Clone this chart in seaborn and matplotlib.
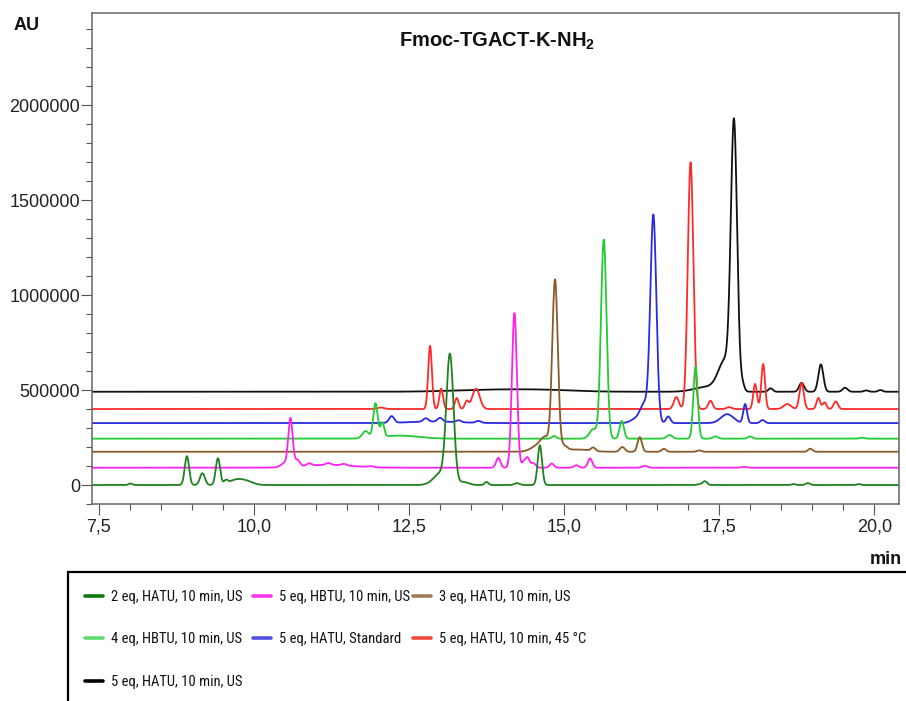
import numpy as np
import pandas as pd
import matplotlib
matplotlib.use("Agg")
import matplotlib.pyplot as plt
from matplotlib import font_manager
from matplotlib.lines import Line2D
from matplotlib.patches import Rectangle
from matplotlib.ticker import MultipleLocator, FuncFormatter
import seaborn as sns

# ---------------- data ----------------
RUNS = ["2 eq, HATU, 10 min, US", "5 eq, HBTU, 10 min, US", "3 eq, HATU, 10 min, US",
        "4 eq, HBTU, 10 min, US", "5 eq, HATU, Standard", "5 eq, HATU, 10 min, 45 °C",
        "5 eq, HATU, 10 min, US"]
BASELINES = [0, 91000, 175000, 244000, 326000, 400000, 491000]

# peak tables: retention time (min), height (AU), peak sigma (min)
RT_2EQ = [8.01, 8.92, 9.17, 9.42, 9.55, 9.72, 9.9, 12.92, 13.0, 13.16, 13.38, 13.75, 14.24, 14.61, 17.18, 17.27, 18.7, 18.93, 19.75]
H_2EQ = [8e3, 152e3, 62e3, 140e3, 18e3, 28e3, 14e3, 18e3, 45e3, 685e3, 16e3, 16e3, 10e3, 209e3, 5e3, 20e3, 5e3, 10e3, 5e3]
W_2EQ = [0.03, 0.035, 0.04, 0.035, 0.03, 0.12, 0.1, 0.1, 0.08, 0.058, 0.08, 0.03, 0.04, 0.035, 0.03, 0.035, 0.03, 0.035, 0.03]

RT_HBTU5 = [10.5, 10.59, 10.7, 10.89, 11.2, 11.2, 11.45, 11.88, 13.94, 14.2, 14.35, 14.41, 14.5, 14.8, 15.2, 15.42, 16.3, 17.9]
H_HBTU5 = [22e3, 250e3, 35e3, 12e3, 10e3, 15e3, 8e3, 5e3, 52e3, 815e3, 30e3, 50e3, 25e3, 22e3, 13e3, 49e3, 10e3, 5e3]
W_HBTU5 = [0.06, 0.035, 0.04, 0.04, 0.04, 0.4, 0.04, 0.04, 0.035, 0.04, 0.03, 0.03, 0.04, 0.035, 0.04, 0.035, 0.04, 0.04]

RT_3EQ = [14.55, 14.7, 14.855, 15.0, 15.2, 15.47, 15.94, 16.22, 16.61, 17.18, 18.97]
H_3EQ = [25e3, 70e3, 894e3, 25e3, 12e3, 18e3, 25e3, 77e3, 16e3, 7e3, 16e3]
W_3EQ = [0.1, 0.08, 0.045, 0.05, 0.2, 0.035, 0.04, 0.035, 0.035, 0.035, 0.035]

RT_HBTU4 = [11.8, 11.96, 12.07, 12.35, 14.84, 15.47, 15.64, 15.93, 16.7, 17.12, 17.44, 18.0, 19.8]
H_HBTU4 = [37e3, 180e3, 75e3, 16e3, 14e3, 50e3, 1048e3, 93e3, 19e3, 380e3, 12e3, 12e3, 5e3]
W_HBTU4 = [0.05, 0.035, 0.03, 0.3, 0.035, 0.06, 0.045, 0.035, 0.045, 0.035, 0.04, 0.035, 0.04]

RT_STD = [12.22, 12.77, 12.9, 13.0, 13.3, 13.62, 16.15, 16.3, 16.44, 16.68, 17.63, 17.92, 18.2]
H_STD = [35e3, 18e3, 8e3, 20e3, 10e3, 10e3, 20e3, 100e3, 1085e3, 35e3, 47e3, 100e3, 16e3]
W_STD = [0.04, 0.04, 0.4, 0.04, 0.04, 0.04, 0.08, 0.07, 0.048, 0.035, 0.1, 0.03, 0.035]

RT_45C = [12.05, 12.84, 13.02, 13.27, 13.43, 13.58, 16.81, 17.04, 17.36, 17.66, 18.08, 18.21, 18.6, 18.83, 19.1, 19.2, 19.38]
H_45C = [8e3, 333e3, 107e3, 58e3, 40e3, 107e3, 63e3, 1300e3, 44e3, 10e3, 132e3, 237e3, 26e3, 137e3, 58e3, 35e3, 40e3]
W_45C = [0.05, 0.03, 0.03, 0.03, 0.03, 0.06, 0.04, 0.045, 0.035, 0.04, 0.03, 0.03, 0.06, 0.035, 0.03, 0.03, 0.035]

RT_5EQ = [13.8, 14.7, 17.3, 17.6, 17.74, 17.88, 18.33, 18.83, 19.14, 19.53, 19.87, 20.1]
H_5EQ = [10e3, 8e3, 25e3, 160e3, 1366e3, 30e3, 18e3, 47e3, 144e3, 21e3, 7e3, 9e3]
W_5EQ = [0.6, 0.5, 0.2, 0.11, 0.05, 0.03, 0.035, 0.04, 0.04, 0.04, 0.035, 0.035]

PEAKS = [(RT_2EQ, H_2EQ, W_2EQ), (RT_HBTU5, H_HBTU5, W_HBTU5), (RT_3EQ, H_3EQ, W_3EQ),
         (RT_HBTU4, H_HBTU4, W_HBTU4), (RT_STD, H_STD, W_STD), (RT_45C, H_45C, W_45C),
         (RT_5EQ, H_5EQ, W_5EQ)]

LINE_COLORS = ["#1e821e", "#ff22ee", "#8b5a2b", "#22cc33", "#2a2ae0", "#ff2a2a", "#111111"]
LEGEND_COLORS = ["#0d7a0d", "#ff33ee", "#a07c58", "#5edc6e", "#5050e0", "#f5463f", "#000000"]

X_TICKS = [7.5, 10.0, 12.5, 15.0, 17.5, 20.0]
Y_TICKS = [0, 500000, 1000000, 1500000, 2000000]

# ---------------- build long table ----------------
t = np.arange(7.39, 20.41, 0.004)
frames = []
for run, base, (rts, hs, ws) in zip(RUNS, BASELINES, PEAKS):
    sig = np.full_like(t, float(base))
    for rt, h, w in zip(rts, hs, ws):
        sig += h * np.exp(-0.5 * ((t - rt) / w) ** 2)
    frames.append(pd.DataFrame({"t": t, "au": sig, "run": run}))
df = pd.concat(frames, ignore_index=True)

# ---------------- style ----------------
sns.set_theme(style="ticks")
avail = {f.name for f in font_manager.fontManager.ttflist}
base_font = "Liberation Sans" if "Liberation Sans" in avail else "DejaVu Sans"
narrow = None
for cand in ["Liberation Sans Narrow", "Arial Narrow", "Roboto Condensed", "DejaVu Sans Condensed"]:
    if cand in avail:
        narrow = cand
        break
plt.rcParams["font.family"] = [base_font, "DejaVu Sans"]
plt.rcParams["mathtext.fontset"] = "custom"
plt.rcParams["mathtext.rm"] = base_font
plt.rcParams["mathtext.bf"] = base_font + ":bold"

fig = plt.figure(figsize=(9.06, 7.01), dpi=100)
W, H = 906, 701
ax = fig.add_axes([92 / W, 1 - 504 / H, (899 - 92) / W, (504 - 13) / H])

palette = dict(zip(RUNS, LINE_COLORS))
draw_order = RUNS[::-1]
sns.lineplot(data=df, x="t", y="au", hue="run", hue_order=draw_order, palette=palette,
             estimator=None, sort=False, lw=1.3, legend=False, ax=ax)

ax.set_xlim(7.39, 20.4)
ax.set_ylim(-100000, 2485000)
ax.set_xticks(X_TICKS)
ax.set_yticks(Y_TICKS)
ax.xaxis.set_minor_locator(MultipleLocator(0.5))
ax.yaxis.set_minor_locator(MultipleLocator(100000))
ax.xaxis.set_major_formatter(FuncFormatter(lambda v, p: f"{v:.1f}".replace(".", ",")))
ax.yaxis.set_major_formatter(FuncFormatter(lambda v, p: f"{int(round(v))}"))
ax.set_xlabel("")
ax.set_ylabel("")
for s in ax.spines.values():
    s.set_color("#666666")
    s.set_linewidth(1.1)
ax.tick_params(which="major", length=7.6, width=0.8, color="#555555", labelsize=13,
               labelcolor="#222222")
ax.tick_params(axis="y", which="major", pad=1)
ax.tick_params(axis="x", which="major", pad=3)
ax.tick_params(which="minor", length=4.3, width=0.8, color="#555555")

fig.text(14 / W, 1 - 25 / H, "AU", fontsize=13, fontweight="bold", ha="left", va="center",
         color="#111111")
fig.text(902 / W, 1 - 559 / H, "min", fontsize=13, fontweight="bold", ha="right", va="center",
         color="#111111")
fig.text(497 / W, 1 - 41 / H, r"Fmoc-TGACT-K-NH$_\mathbf{2}$", fontsize=14.5, fontweight="bold",
         ha="center", va="center", color="#111111")

# ---------------- legend (three columns placed individually) ----------------
if narrow is not None:
    leg_font = {"family": [narrow, base_font], "size": 10.5}
else:
    leg_font = {"family": [base_font], "size": 9}

columns = [[0, 3, 6], [1, 4], [2, 5]]
col_x = [85, 253, 413]
for idxs, cx in zip(columns, col_x):
    handles = [Line2D([], [], color=LEGEND_COLORS[i], lw=2.6) for i in idxs]
    labels = [RUNS[i] for i in idxs]
    fig.legend(handles, labels, loc="upper left", bbox_to_anchor=(cx / W, 1 - 590 / H),
               frameon=False, prop=leg_font, handlelength=1.25, handletextpad=0.5,
               borderpad=0, borderaxespad=0, labelspacing=1.95, labelcolor="#111111")

fig.patches.append(Rectangle((68 / W, -0.2), 1.2, 1 - 572 / H + 0.2, transform=fig.transFigure,
                             fill=False, edgecolor="black", lw=1.6, clip_on=False))

fig.savefig("out.png", dpi=100)
